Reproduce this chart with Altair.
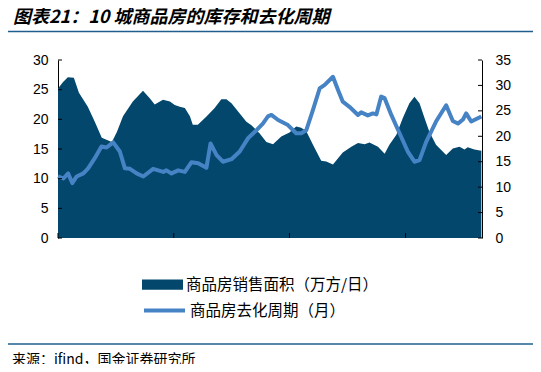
import altair as alt
import pandas as pd

TITLE = "图表21：10 城商品房的库存和去化周期"
SOURCE = "来源：ifind，国金证券研究所"
AREA_NAME = "商品房销售面积（万方/日）"
LINE_NAME = "商品房去化周期（月）"

area_dates = [
    "2021-12-12", "2021-12-28", "2022-01-12", "2022-01-31", "2022-02-16", "2022-03-16", "2022-04-07", "2022-04-29", "2022-05-12", "2022-05-31",
    "2022-06-16", "2022-07-05", "2022-08-05", "2022-09-06", "2022-09-28", "2022-10-13", "2022-11-08", "2022-11-30", "2022-12-15", "2022-12-31",
    "2023-01-16", "2023-02-01", "2023-02-10", "2023-02-26", "2023-03-26", "2023-04-20", "2023-05-11", "2023-05-27", "2023-06-12", "2023-07-08",
    "2023-07-29", "2023-08-14", "2023-09-09", "2023-09-30", "2023-10-21", "2023-11-16", "2023-12-12", "2024-01-02", "2024-01-18", "2024-02-03",
    "2024-02-24", "2024-03-21", "2024-04-06", "2024-04-27", "2024-05-28", "2024-06-24", "2024-07-15", "2024-08-05", "2024-08-20", "2024-09-16",
    "2024-10-07", "2024-10-22", "2024-11-13", "2024-12-03", "2024-12-24", "2025-01-09", "2025-01-25", "2025-02-10", "2025-02-25", "2025-03-18",
    "2025-04-19", "2025-05-10", "2025-05-31", "2025-06-16", "2025-06-26", "2025-07-17", "2025-08-08",
]
area_values = [
    25.2, 26.3, 27.1, 27.0, 24.5, 22.1, 19.6, 16.9, 16.6, 16.2,
    17.9, 20.5, 23.0, 24.8, 23.5, 22.5, 23.3, 23.0, 22.4, 22.1,
    21.9, 20.5, 19.1, 19.1, 20.5, 21.9, 23.4, 23.4, 22.7, 21.0,
    19.6, 19.0, 17.6, 16.2, 15.8, 17.1, 17.8, 18.8, 18.6, 18.0,
    15.7, 13.0, 12.9, 12.4, 14.4, 15.4, 16.0, 15.8, 16.1, 15.4,
    14.2, 15.7, 17.4, 20.2, 22.7, 23.8, 22.7, 20.2, 17.9, 15.7,
    14.0, 15.1, 15.4, 14.9, 15.3, 14.9, 14.7,
]

line_dates = [
    "2021-12-12", "2021-12-29", "2022-01-13", "2022-01-26", "2022-02-09", "2022-03-02", "2022-03-17", "2022-04-07", "2022-04-28", "2022-05-14",
    "2022-06-04", "2022-06-25", "2022-07-11", "2022-07-27", "2022-08-17", "2022-09-07", "2022-10-08", "2022-11-09", "2022-11-19", "2022-12-05",
    "2022-12-26", "2023-01-16", "2023-02-06", "2023-02-27", "2023-03-25", "2023-04-07", "2023-04-26", "2023-05-16", "2023-06-12", "2023-07-08",
    "2023-08-03", "2023-08-30", "2023-09-19", "2023-10-05", "2023-10-16", "2023-11-06", "2023-12-07", "2024-01-02", "2024-01-18", "2024-02-03",
    "2024-02-24", "2024-03-16", "2024-04-01", "2024-04-27", "2024-05-13", "2024-05-28", "2024-06-18", "2024-07-15", "2024-07-25", "2024-08-15",
    "2024-08-31", "2024-09-11", "2024-09-26", "2024-10-07", "2024-10-28", "2024-11-23", "2024-12-19", "2025-01-09", "2025-01-25", "2025-02-15",
    "2025-03-18", "2025-04-19", "2025-05-10", "2025-05-26", "2025-06-11", "2025-06-21", "2025-07-07", "2025-08-08",
]
line_values = [
    12.1, 11.7, 12.7, 10.8, 12.1, 12.7, 13.7, 15.7, 18.0, 17.8,
    18.8, 17.0, 13.7, 13.6, 12.7, 12.1, 13.6, 13.0, 13.3, 12.7,
    13.3, 13.0, 14.9, 14.7, 13.8, 18.6, 16.3, 15.0, 15.5, 17.0,
    19.6, 21.2, 22.5, 23.9, 24.2, 23.2, 22.2, 20.6, 20.6, 21.2,
    25.2, 29.4, 30.1, 31.7, 29.1, 26.8, 25.8, 24.2, 24.7, 24.1,
    24.5, 24.3, 27.8, 27.5, 24.2, 20.6, 17.0, 15.0, 15.3, 18.9,
    22.9, 26.1, 23.0, 22.5, 23.3, 24.5, 22.9, 23.9,
]

x_tick_dates = ["2021-12-12", "2022-12-12", "2023-12-12", "2024-12-12"]
left_ticks = [0, 5, 10, 15, 20, 25, 30]
right_ticks = [0, 5, 10, 15, 20, 25, 30, 35]

AREA_COLOR = "#03476c"
LINE_COLOR = "#4683c5"
RULE_COLOR = "#1f5f8f"
NUM_FONT = "Liberation Sans"
CJK_FONT = "Noto Sans CJK SC"
W, H = 424, 178

area_df = pd.DataFrame({"date": [d + "T00:00:00" for d in area_dates], "v": area_values, "s": AREA_NAME})
line_df = pd.DataFrame({"date": [d + "T00:00:00" for d in line_dates], "v": line_values, "s": LINE_NAME})
xt_df = pd.DataFrame({"date": [d + "T00:00:00" for d in x_tick_dates]})
lt_df = pd.DataFrame({"v": left_ticks})
rt_df = pd.DataFrame({"v": right_ticks})

x_scale = alt.Scale(domain=[alt.DateTime(year=2021, month=12, date=12), alt.DateTime(year=2025, month=8, date=10)])
left_scale = alt.Scale(domain=[0, 30], nice=False, zero=True)
right_scale = alt.Scale(domain=[0, 35], nice=False, zero=True)

x_axis = alt.Axis(
    values=[alt.DateTime(year=2021, month=12, date=12), alt.DateTime(year=2022, month=12, date=12),
            alt.DateTime(year=2023, month=12, date=12), alt.DateTime(year=2024, month=12, date=12)],
    format="%Y/%m/%d", title=None, grid=False, tickSize=0, labelPadding=10,
    labelFont=NUM_FONT, labelFontSize=14, labelColor="black", domainColor="black", domainWidth=1,
    labelOverlap=False, labelFlush=False,
)

area = alt.Chart(area_df).mark_area(opacity=1).encode(
    x=alt.X("date:T", scale=x_scale, axis=x_axis),
    y=alt.Y("v:Q", scale=left_scale, axis=alt.Axis(
        orient="left", values=left_ticks, title=None, grid=False, tickSize=0, labelPadding=10,
        labelFont=NUM_FONT, labelFontSize=14, labelColor="black", domainColor="black", domainWidth=1)),
    color=alt.Color("s:N", scale=alt.Scale(domain=[AREA_NAME], range=[AREA_COLOR]), legend=alt.Legend(
        title=None, orient="none", legendX=84, legendY=204, symbolType="M-1,-0.25L1,-0.25L1,0.25L-1,0.25Z",
        symbolSize=1681, symbolStrokeWidth=0, symbolOpacity=1, labelFont=CJK_FONT, labelFontSize=15.5,
        labelColor="black", labelOffset=3, labelLimit=0, padding=0)),
)

line = alt.Chart(line_df).mark_line(strokeWidth=4, strokeJoin="round").encode(
    x=alt.X("date:T", scale=x_scale, axis=None),
    y=alt.Y("v:Q", scale=right_scale, axis=alt.Axis(
        orient="right", values=right_ticks, title=None, grid=False, tickSize=0, labelPadding=13,
        labelFont=NUM_FONT, labelFontSize=14, labelColor="black", domainColor="black", domainWidth=1)),
    stroke=alt.Stroke("s:N", scale=alt.Scale(domain=[LINE_NAME], range=[LINE_COLOR]), legend=alt.Legend(
        title=None, orient="none", legendX=84, legendY=228, symbolType="stroke",
        symbolSize=1681, symbolStrokeWidth=4, labelFont=CJK_FONT, labelFontSize=15.5,
        labelColor="black", labelOffset=3, labelLimit=0, padding=0)),
)

x_ticks = alt.Chart(xt_df).mark_rule(color="black", strokeWidth=1).encode(
    x=alt.X("date:T", scale=x_scale, axis=None), y=alt.value(H), y2=alt.value(H - 5))
l_ticks = alt.Chart(lt_df).mark_rule(color="black", strokeWidth=1).encode(
    y=alt.Y("v:Q", scale=left_scale, axis=None), x=alt.value(0), x2=alt.value(4))
r_ticks = alt.Chart(rt_df).mark_rule(color="black", strokeWidth=1).encode(
    y=alt.Y("v:Q", scale=right_scale, axis=None), x=alt.value(W), x2=alt.value(W - 4))

one = pd.DataFrame({"t": [TITLE]})
title = alt.Chart(one).mark_text(
    font=CJK_FONT, fontSize=18, fontStyle="italic", fontWeight="bold", align="left", baseline="alphabetic", color="black"
).encode(text="t:N", x=alt.value(-45), y=alt.value(-37))
top_rule = alt.Chart(one).mark_rule(color=RULE_COLOR, strokeWidth=1.5).encode(
    x=alt.value(-53), x2=alt.value(478), y=alt.value(-28.5))
src_df = pd.DataFrame({"t": [SOURCE]})
source = alt.Chart(src_df).mark_text(
    font=CJK_FONT, fontSize=14, align="left", baseline="alphabetic", color="black"
).encode(text="t:N", x=alt.value(-46), y=alt.value(304))
bot_rule = alt.Chart(one).mark_rule(color=RULE_COLOR, strokeWidth=1.5).encode(
    x=alt.value(-53), x2=alt.value(478), y=alt.value(284))

chart = alt.layer(area, line, x_ticks, l_ticks, r_ticks, title, top_rule, source, bot_rule).resolve_scale(
    y="independent", color="independent", stroke="independent"
).properties(
    width=W, height=H,
    autosize=alt.AutoSizeParams(type="none"),
    padding={"left": 50, "top": 52, "right": 51, "bottom": 126},
).configure_view(strokeWidth=0)

chart.save("out.html", embed_options={"renderer": "svg", "actions": False})
